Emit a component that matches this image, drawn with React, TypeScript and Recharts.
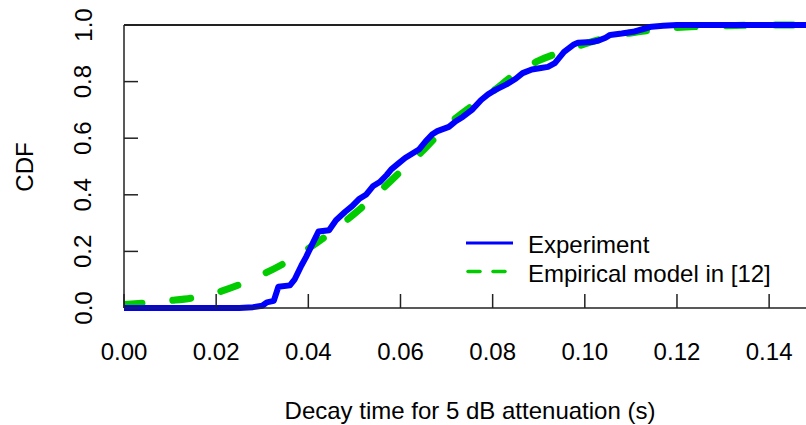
import React from 'react';
import { LineChart, Line, XAxis, YAxis, ReferenceLine } from 'recharts';

const xTicks = [0, 0.02, 0.04, 0.06, 0.08, 0.1, 0.12, 0.14];
const yTicks = [0, 0.2, 0.4, 0.6, 0.8, 1.0];

const expX = [0, 0.025, 0.028, 0.03, 0.031, 0.0325, 0.0335, 0.036, 0.037, 0.0385, 0.0395, 0.041, 0.0422, 0.0445, 0.046, 0.047, 0.048, 0.0495, 0.051, 0.0525, 0.054, 0.0555, 0.057, 0.058, 0.0595, 0.061, 0.0625, 0.064, 0.0655, 0.067, 0.068, 0.0705, 0.072, 0.0735, 0.0755, 0.0775, 0.079, 0.0805, 0.083, 0.085, 0.0865, 0.0885, 0.0905, 0.092, 0.0935, 0.0955, 0.0975, 0.0985, 0.1015, 0.103, 0.1045, 0.1055, 0.108, 0.1105, 0.1125, 0.1145, 0.117, 0.12, 0.148];
const expY = [0, 0, 0.003, 0.008, 0.02, 0.025, 0.075, 0.08, 0.1, 0.15, 0.18, 0.23, 0.27, 0.275, 0.31, 0.325, 0.34, 0.36, 0.385, 0.4, 0.43, 0.445, 0.47, 0.49, 0.51, 0.53, 0.545, 0.56, 0.59, 0.615, 0.625, 0.64, 0.66, 0.675, 0.7, 0.735, 0.755, 0.77, 0.79, 0.81, 0.83, 0.843, 0.848, 0.852, 0.865, 0.905, 0.93, 0.937, 0.94, 0.945, 0.955, 0.965, 0.97, 0.976, 0.985, 0.994, 0.997, 1.0, 1.0];

const modelX = [0, 0.005, 0.01, 0.015, 0.02, 0.025, 0.03, 0.035, 0.04, 0.045, 0.05, 0.055, 0.06, 0.065, 0.07, 0.075, 0.08, 0.085, 0.09, 0.095, 0.1, 0.105, 0.11, 0.115, 0.12, 0.13, 0.14, 0.148];
const modelY = [0.012, 0.018, 0.026, 0.036, 0.054, 0.082, 0.118, 0.16, 0.21, 0.268, 0.333, 0.405, 0.482, 0.558, 0.643, 0.708, 0.765, 0.828, 0.874, 0.905, 0.933, 0.956, 0.972, 0.983, 0.991, 0.997, 1.0, 1.0];

const expData = expX.map((x, i) => ({ x, y: expY[i] }));
const modelData = modelX.map((x, i) => ({ x, y: modelY[i] }));

const FONT = '"Liberation Sans", Arial, Helvetica, sans-serif';
const W = 806;
const H = 425;
const X_AXIS_H = 40;
const Y_AXIS_W = 40;
const M = { top: 25, right: 0, left: 124 - Y_AXIS_W, bottom: 117 - X_AXIS_H };
const PLOT_BOTTOM = H - 117;
const AXIS_COLOR = '#222';

function XTick(props: any) {
  const { payload } = props;
  return (
    <text x={payload.coordinate} y={PLOT_BOTTOM + 52} textAnchor="middle" fontSize={24} fontFamily={FONT} fill="#000">
      {Number(payload.value).toFixed(2)}
    </text>
  );
}

function YTick(props: any) {
  const { payload } = props;
  const tx = 91.5;
  const ty = payload.coordinate;
  return (
    <text x={tx} y={ty} transform={`rotate(-90, ${tx}, ${ty})`} textAnchor="middle" fontSize={24} fontFamily={FONT} fill="#000">
      {Number(payload.value).toFixed(1)}
    </text>
  );
}

export default function App() {
  return (
    <div style={{ position: 'absolute', left: 0, top: 0, width: W, height: H, background: '#fff' }}>
      <LineChart width={W} height={H} margin={M}>
        <XAxis
          type="number"
          dataKey="x"
          domain={[0, 0.148]}
          ticks={xTicks}
          interval={0}
          allowDataOverflow
          height={X_AXIS_H}
          tickSize={-14}
          tick={<XTick />}
          axisLine={{ stroke: AXIS_COLOR, strokeWidth: 1.5 }}
          tickLine={{ stroke: AXIS_COLOR, strokeWidth: 1.5 }}
        />
        <YAxis
          type="number"
          dataKey="y"
          domain={[0, 1]}
          ticks={yTicks}
          interval={0}
          width={Y_AXIS_W}
          tickSize={-14}
          tick={<YTick />}
          axisLine={{ stroke: AXIS_COLOR, strokeWidth: 1.5 }}
          tickLine={{ stroke: AXIS_COLOR, strokeWidth: 1.5 }}
        />
        <ReferenceLine y={1} stroke={AXIS_COLOR} strokeWidth={2} />
        <Line
          data={modelData}
          dataKey="y"
          type="monotone"
          dot={false}
          stroke="#00cc00"
          strokeWidth={7}
          strokeDasharray="18 31"
          strokeLinecap="round"
          isAnimationActive={false}
        />
        <Line
          data={expData}
          dataKey="y"
          type="linear"
          dot={false}
          stroke="#0000ff"
          strokeWidth={6}
          strokeLinejoin="round"
          isAnimationActive={false}
        />
      </LineChart>
      <svg width={W} height={H} style={{ position: 'absolute', left: 0, top: 0, pointerEvents: 'none' }}>
        <line x1={466} y1={243} x2={513} y2={243} stroke="#0000ff" strokeWidth={3} />
        <line x1={468} y1={271.5} x2={480} y2={271.5} stroke="#00cc00" strokeWidth={3.5} strokeLinecap="round" />
        <line x1={493} y1={271.5} x2={505} y2={271.5} stroke="#00cc00" strokeWidth={3.5} strokeLinecap="round" />
        <text x={528} y={253} fontSize={24} fontFamily={FONT} fill="#000">Experiment</text>
        <text x={528} y={281.5} fontSize={24} fontFamily={FONT} fill="#000">Empirical model in [12]</text>
        <text x={470} y={419} textAnchor="middle" fontSize={24} fontFamily={FONT} fill="#000">Decay time for 5 dB attenuation (s)</text>
        <text x={33} y={167} transform="rotate(-90, 33, 167)" textAnchor="middle" fontSize={24} fontFamily={FONT} fill="#000">CDF</text>
      </svg>
    </div>
  );
}
